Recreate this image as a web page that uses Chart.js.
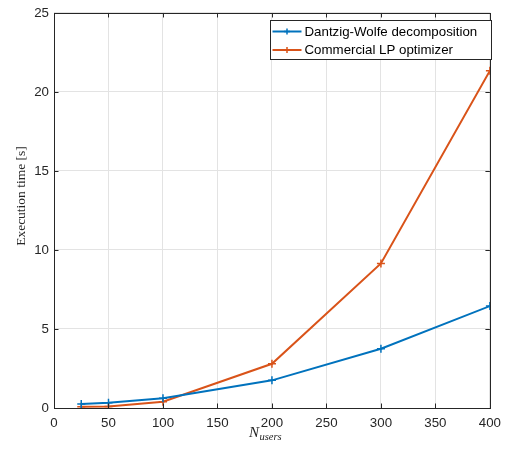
<!DOCTYPE html>
<html>
<head>
<meta charset="utf-8">
<script src="https://cdn.jsdelivr.net/npm/chart.js@4"></script>
<style>
  html, body { margin: 0; padding: 0; background: #fff; }
  canvas { display: block; }
</style>
</head>
<body>
<canvas id="c" width="508" height="449"></canvas>
<script>
'use strict';
const users = [25, 50, 100, 200, 300, 400];
const dantzigWolfe = [0.25, 0.33, 0.62, 1.75, 3.75, 6.45];
const commercialLP = [0.08, 0.1, 0.4, 2.8, 9.15, 21.35];
const xTicks = [0, 50, 100, 150, 200, 250, 300, 350, 400];
const yTicks = [0, 5, 10, 15, 20, 25];

const axisClr = '#262626';
const gridClr = '#e3e3e3';
const sans = '"Liberation Sans", Arial, sans-serif';
const serif = '"Liberation Serif", "DejaVu Serif", serif';

const toXY = vals => vals.map((v, i) => ({ x: users[i], y: v }));

// box, inward ticks, axis titles and legend drawn inside the axes (MATLAB style)
const matlabAxes = {
  id: 'matlabAxes',
  afterDatasetsDraw(chart) {
    const { ctx, chartArea: a, scales: { x, y } } = chart;
    ctx.save();
    ctx.strokeStyle = axisClr;
    ctx.lineWidth = 1;
    ctx.beginPath();
    xTicks.forEach(t => {
      const px = Math.round(x.getPixelForValue(t)) + 0.5;
      ctx.moveTo(px, a.bottom); ctx.lineTo(px, a.bottom - 4.5);
      ctx.moveTo(px, a.top); ctx.lineTo(px, a.top + 4.5);
    });
    yTicks.forEach(t => {
      const py = Math.round(y.getPixelForValue(t)) + 0.5;
      ctx.moveTo(a.left, py); ctx.lineTo(a.left + 4.5, py);
      ctx.moveTo(a.right, py); ctx.lineTo(a.right - 4.5, py);
    });
    ctx.stroke();
    ctx.strokeRect(Math.round(a.left) + 0.5, Math.round(a.top) + 0.5,
      Math.round(a.right - a.left), Math.round(a.bottom - a.top));

    // y title
    ctx.fillStyle = axisClr;
    ctx.font = '13.5px ' + serif;
    ctx.textAlign = 'center';
    ctx.textBaseline = 'middle';
    ctx.save();
    ctx.translate(21, 196);
    ctx.rotate(-Math.PI / 2);
    ctx.fillText('Execution time [s]', 0, 0);
    ctx.restore();

    // x title with subscript
    ctx.textAlign = 'left';
    ctx.textBaseline = 'alphabetic';
    ctx.font = 'italic 15px ' + serif;
    const nW = ctx.measureText('N').width;
    ctx.font = 'italic 10.5px ' + serif;
    const sW = ctx.measureText('users').width;
    const x0 = 265 - (nW + sW) / 2;
    ctx.font = 'italic 15px ' + serif;
    ctx.fillText('N', x0, 437);
    ctx.font = 'italic 10.5px ' + serif;
    ctx.fillText('users', x0 + nW + 0.5, 440);

    // legend
    const lx = Math.round(a.right) - 219.5, ly = Math.round(a.top) + 7.5;
    const lw = 221, lh = 39;
    ctx.fillStyle = '#fff';
    ctx.fillRect(lx, ly, lw, lh);
    ctx.strokeStyle = axisClr;
    ctx.strokeRect(lx, ly, lw, lh);
    ctx.font = '13.3px ' + sans;
    ctx.textBaseline = 'middle';
    chart.data.datasets.forEach((ds, i) => {
      const cy = ly + 11 + i * 18.5;
      ctx.strokeStyle = ds.borderColor;
      ctx.lineWidth = 2;
      ctx.beginPath();
      ctx.moveTo(lx + 2, cy); ctx.lineTo(lx + 31, cy);
      ctx.stroke();
      ctx.lineWidth = 1.5;
      ctx.beginPath();
      ctx.moveTo(lx + 16.5, cy - 3); ctx.lineTo(lx + 16.5, cy + 3);
      ctx.moveTo(lx + 13.5, cy); ctx.lineTo(lx + 19.5, cy);
      ctx.stroke();
      ctx.fillStyle = '#000';
      ctx.fillText(ds.label, lx + 34, cy + 0.5);
    });
    ctx.restore();
  }
};

const lineSet = (label, vals, color) => ({
  label,
  data: toXY(vals),
  borderColor: color,
  backgroundColor: color,
  borderWidth: 2,
  pointStyle: 'cross',
  pointRadius: 4,
  pointBorderWidth: 1.5,
  pointHoverRadius: 4,
  tension: 0,
  fill: false
});

new Chart(document.getElementById('c'), {
  type: 'line',
  data: {
    datasets: [
      lineSet('Dantzig-Wolfe decomposition', dantzigWolfe, '#0072BD'),
      lineSet('Commercial LP optimizer', commercialLP, '#D95319')
    ]
  },
  options: {
    responsive: false,
    animation: false,
    layout: { padding: { top: 9, right: 17, left: 0, bottom: 0 } },
    plugins: { legend: { display: false }, tooltip: { enabled: false } },
    scales: {
      x: {
        type: 'linear', min: 0, max: 400,
        afterBuildTicks: s => { s.ticks = xTicks.map(v => ({ value: v })); },
        afterFit: s => { s.height = 41; },
        grid: { color: gridClr, drawTicks: false },
        border: { display: false },
        ticks: { color: axisClr, padding: 7, maxRotation: 0, font: { family: sans, size: 13.3 } }
      },
      y: {
        min: 0, max: 25,
        afterBuildTicks: s => { s.ticks = yTicks.map(v => ({ value: v })); },
        afterFit: s => { s.width = 54; },
        grid: { color: gridClr, drawTicks: false },
        border: { display: false },
        ticks: { color: axisClr, padding: 5, font: { family: sans, size: 13.3 } }
      }
    }
  },
  plugins: [matlabAxes]
});
</script>
</body>
</html>
